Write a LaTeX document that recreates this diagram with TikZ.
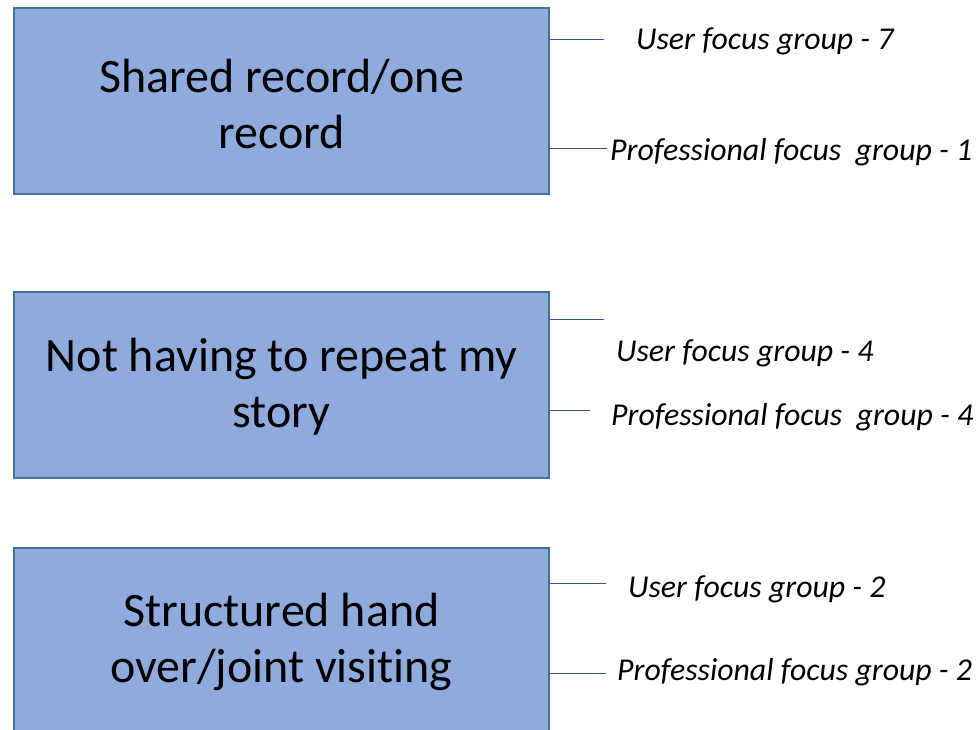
\documentclass[tikz,border=0pt]{standalone}
\usepackage{fontspec}
\setmainfont{Carlito}[Ligatures={NoCommon}]
\definecolor{boxfill}{HTML}{8FAADC}
\definecolor{boxline}{HTML}{41719C}
\definecolor{connclr}{HTML}{2F5597}
\begin{document}
\begin{tikzpicture}[x=1pt,y=-1pt,
  box/.style={draw=boxline,line width=2pt,fill=boxfill,minimum width=535pt,minimum height=186pt,
    inner sep=0pt},
  boxtext/.style={align=center,font=\fontsize{48}{56}\selectfont,inner sep=0pt},
  lab/.style={anchor=west,inner sep=0pt,font=\fontsize{31.8}{36}\selectfont\itshape},
  conn/.style={draw=connclr,line width=1pt}]
\useasboundingbox (0,0) rectangle (978,730);
\begin{scope}
\clip (0,0) rectangle (978,730);
\node[box] (b1) at (281.5,101) {};
\node[box] (b2) at (281.5,385) {};
\node[box,minimum height=200pt] (b3) at (281.5,648) {};
\end{scope}
\node[boxtext] (t1) at (281.5,104) {Shared record/one\\record};
\node[boxtext] (t2) at (281.5,387) {Not having to repeat my\\story};
\node[boxtext] (t3) at (281.5,642) {Structured hand\\over/joint visiting};
\node[lab] (u1) at (636,41) {User focus group - 7};
\node[lab] (p1) at (610,152) {Professional focus\ \ group - 1};
\node[lab] (u2) at (616,353) {User focus group - 4};
\node[lab] (p2) at (611,417) {Professional focus\ \ group - 4};
\node[lab] (u3) at (628,589) {User focus group - 2};
\node[lab] (p3) at (617,672) {Professional focus group - 2};
\coordinate (e1) at (604,40);
\coordinate (e2) at (607,149);
\coordinate (e3) at (604,320);
\coordinate (e4) at (590,410);
\coordinate (e5) at (606,583);
\coordinate (e6) at (606,673);
\draw[conn] (b1.east |- e1) -- (e1);
\draw[conn] (b1.east |- e2) -- (e2);
\draw[conn] (b2.east |- e3) -- (e3);
\draw[conn] (b2.east |- e4) -- (e4);
\draw[conn] (b3.east |- e5) -- (e5);
\draw[conn] (b3.east |- e6) -- (e6);
\end{tikzpicture}
\end{document}
